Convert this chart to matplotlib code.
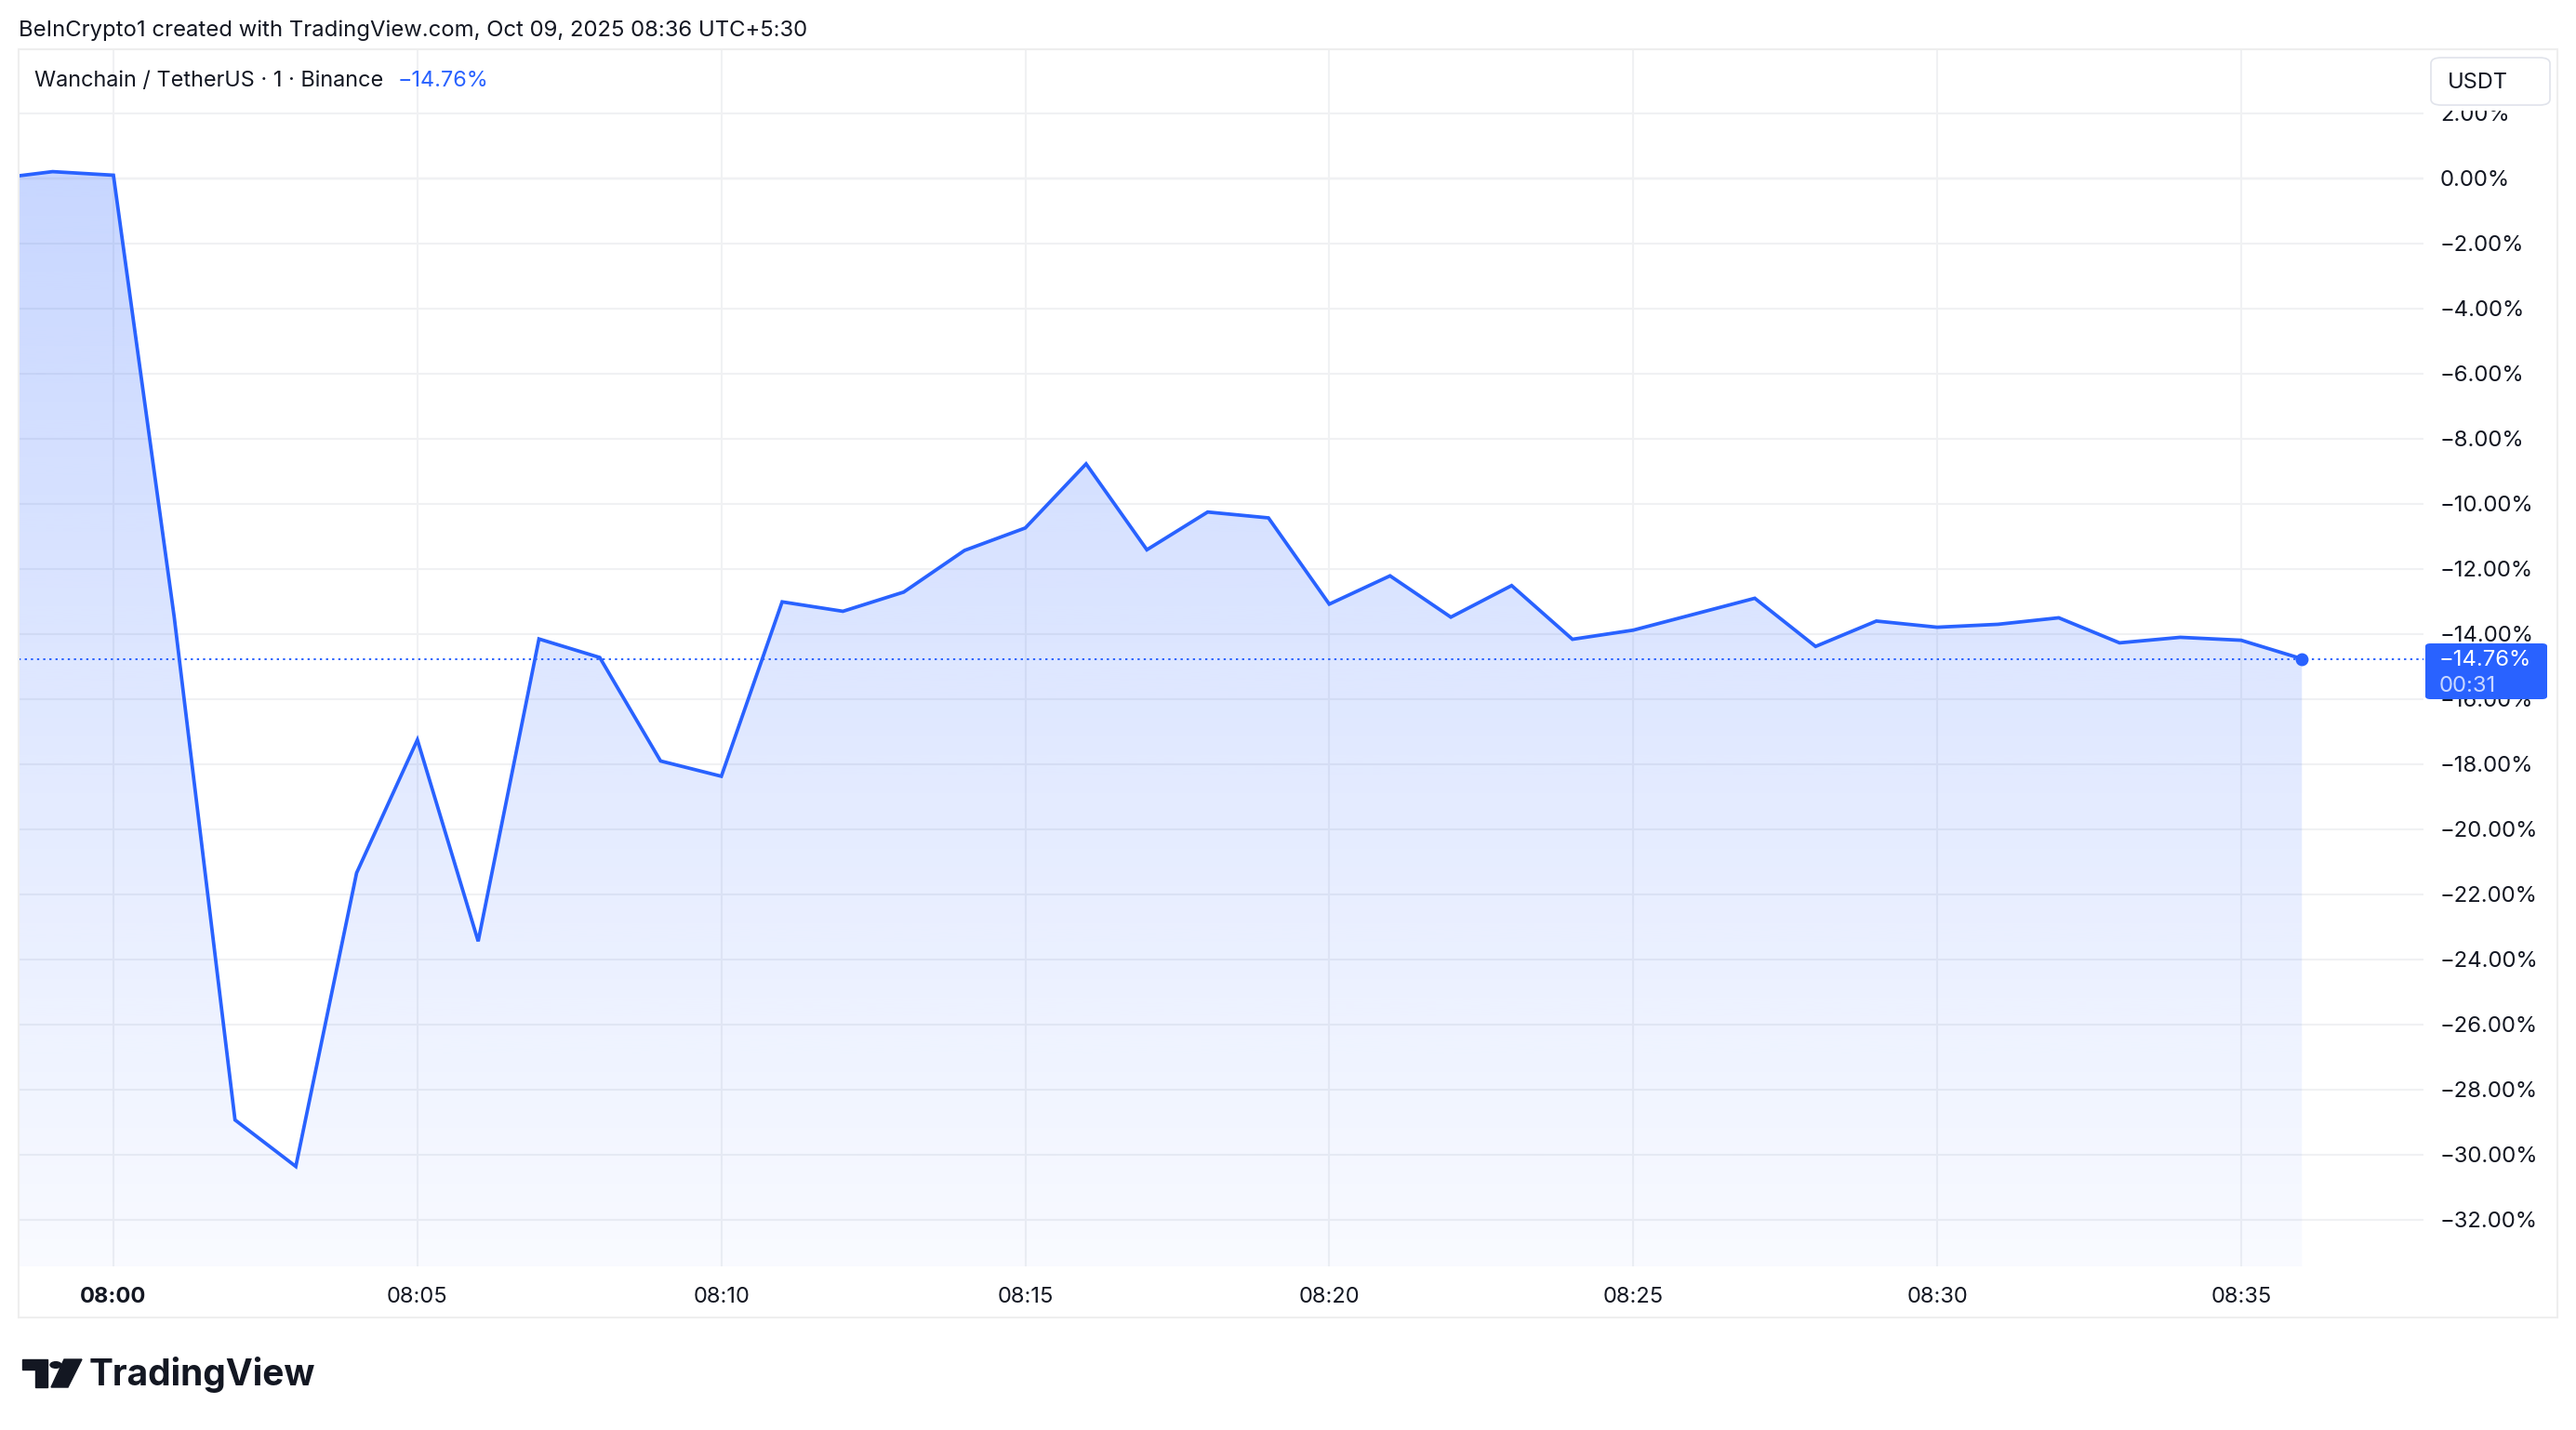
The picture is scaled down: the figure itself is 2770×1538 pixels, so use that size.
import numpy as np
import matplotlib
matplotlib.use("Agg")
import matplotlib.pyplot as plt
from matplotlib.patches import Rectangle, FancyBboxPatch, Polygon, Circle

plt.rcParams["font.family"] = ["Inter", "DejaVu Sans"]

# ---------------------------------------------------------
# Data: 1-minute closes, % change vs 08:00 base
# ---------------------------------------------------------
times = [
    "07:58", "07:59", "08:00", "08:01", "08:02", "08:03", "08:04", "08:05",
    "08:06", "08:07", "08:08", "08:09", "08:10", "08:11", "08:12", "08:13",
    "08:14", "08:15", "08:16", "08:17", "08:18", "08:19", "08:20", "08:21",
    "08:22", "08:23", "08:24", "08:25", "08:26", "08:27", "08:28", "08:29",
    "08:30", "08:31", "08:32", "08:33", "08:34", "08:35", "08:36",
]
change_pct = [
    -0.02, 0.21, 0.10, -13.48, -28.93, -30.36, -21.34, -17.25,
    -23.44, -14.15, -14.72, -17.90, -18.37, -13.01, -13.30, -12.71,
    -11.43, -10.74, -8.77, -11.41, -10.25, -10.43, -13.08, -12.21,
    -13.48, -12.51, -14.16, -13.88, -13.39, -12.90, -14.38, -13.60,
    -13.79, -13.70, -13.50, -14.27, -14.10, -14.19, -14.76,
]
time_ticks = ["08:00", "08:05", "08:10", "08:15", "08:20", "08:25", "08:30", "08:35"]
pct_ticks = [2, 0, -2, -4, -6, -8, -10, -12, -14, -16, -18, -20, -22, -24, -26, -28, -30, -32]

title_text = "BeInCrypto1 created with TradingView.com, Oct 09, 2025 08:36 UTC+5:30"
symbol_text = "Wanchain / TetherUS · 1 · Binance"
last_label = "\u221214.76%"
countdown = "00:31"

BLUE = "#2962ff"
TEXT = "#131722"
GRID = "#f0f1f3"


def to_minutes(t):
    h, m = t.split(":")
    return int(h) * 60 + int(m) - 8 * 60


def fmt_pct(v):
    s = f"{abs(v):.2f}%"
    return ("\u2212" + s) if v < 0 else s


x = np.array([to_minutes(t) for t in times], dtype=float)
y = np.array(change_pct)

# ---------------------------------------------------------
# Figure / pixel helpers
# ---------------------------------------------------------
W, H = 2770, 1538
fig = plt.figure(figsize=(W / 100, H / 100), dpi=100)
fig.patch.set_facecolor("white")


def fx(px):
    return px / W


def fy(py):
    return 1 - py / H


LEFT, RIGHT, TOP, BOTTOM = 20, 2606, 53, 1362
ax = fig.add_axes([fx(LEFT), fy(BOTTOM), (RIGHT - LEFT) / W, (BOTTOM - TOP) / H])
ax.set_xlim(-1.56, 38.0)
ax.set_ylim(-33.43, 3.97)
ax.set_facecolor("white")

for s in ax.spines.values():
    s.set_visible(False)
ax.set_xticks([to_minutes(t) for t in time_ticks])
ax.set_yticks(pct_ticks)
ax.tick_params(length=0, labelleft=False, labelbottom=False)
ax.grid(True, color=GRID, lw=1.5, zorder=0)

# zero line
ax.axhline(0, color="#b2b2b2", lw=1.5, zorder=1)

# gradient area under the line
ybot = ax.get_ylim()[0]
fill = ax.fill_between(x, y, ybot, color="none", lw=0)
n = 256
grad = np.zeros((n, 1, 4))
grad[:, 0, 0] = 41 / 255
grad[:, 0, 1] = 98 / 255
grad[:, 0, 2] = 1.0
grad[:, 0, 3] = np.linspace(0.26, 0.03, n)
im = ax.imshow(grad, extent=[x[0], x[-1], ybot, y.max()], aspect="auto",
               origin="upper", zorder=2, interpolation="bicubic")
im.set_clip_path(fill.get_paths()[0], transform=ax.transData)
ax.set_xlim(-1.56, 38.0)
ax.set_ylim(-33.43, 3.97)

# price line
ax.plot(x, y, color=BLUE, lw=2.7, zorder=4, solid_joinstyle="miter")
ax.axhline(y[-1], color=BLUE, lw=1.4, ls=(0, (1.2, 2.2)), zorder=3)
ax.plot(x[-1], y[-1], "o", ms=9, color=BLUE, zorder=5)

# time axis labels
for t in time_ticks:
    ax.text(to_minutes(t), -33 / (BOTTOM - TOP), t, transform=ax.get_xaxis_transform(),
            ha="center", va="center", fontsize=17, color=TEXT,
            fontweight="bold" if t == "08:00" else "normal", clip_on=False)

# price axis labels (nudged ~2px down so glyphs sit centred on the grid line)
for v in pct_ticks:
    ax.text(1 + 18 / (RIGHT - LEFT), v - 0.05, fmt_pct(v), transform=ax.get_yaxis_transform(),
            ha="left", va="center", fontsize=17.2, color=TEXT, clip_on=False)

# pane border
fig.patches.append(Rectangle((fx(20), fy(1417)), (2750 - 20) / W, (1417 - 53) / H,
                             transform=fig.transFigure, fill=False,
                             edgecolor="#eeeeee", lw=1.5, zorder=0))

# USDT currency box (covers the top label)
fig.patches.append(Rectangle((fx(2608), fy(119)), (2748 - 2608) / W, (119 - 56) / H,
                             transform=fig.transFigure, facecolor="white",
                             edgecolor="none", zorder=5))
fig.patches.append(FancyBboxPatch((fx(2614), fy(113)), (2742 - 2614) / W, (113 - 62) / H,
                                  boxstyle="round,pad=0,rounding_size=0.004",
                                  transform=fig.transFigure, facecolor="white",
                                  edgecolor="#e0e3eb", lw=1.2, zorder=6))
fig.text(fx(2632), fy(89), "USDT", ha="left", va="center", fontsize=17,
         color=TEXT, zorder=7)

# last price label
fig.patches.append(FancyBboxPatch((fx(2608), fy(752)), (2739 - 2608) / W, (752 - 692) / H,
                                  boxstyle="round,pad=0,rounding_size=0.002",
                                  transform=fig.transFigure, facecolor=BLUE,
                                  edgecolor="none", zorder=6))
fig.text(fx(2623), fy(710), last_label, ha="left", va="center", fontsize=17.2,
         color="white", zorder=7)
fig.text(fx(2623), fy(738), countdown, ha="left", va="center", fontsize=17.2,
         color="#ffffff", alpha=0.75, zorder=7)

# header texts
fig.text(fx(20), fy(33), title_text, ha="left", va="center", fontsize=17.2, color=TEXT)
fig.text(fx(37), fy(87), symbol_text, ha="left", va="center", fontsize=16.9, color=TEXT)
fig.text(fx(428), fy(87), last_label, ha="left", va="center", fontsize=16.9, color=BLUE)

# TradingView logo
k = "#131722"
fig.patches.append(Polygon([[fx(24), fy(1462)], [fx(51), fy(1462)], [fx(51), fy(1492)],
                            [fx(38), fy(1492)], [fx(38), fy(1473)], [fx(24), fy(1473)]],
                           closed=True, transform=fig.transFigure, color=k, zorder=5))
fig.patches.append(Circle((fx(60), fy(1468)), 6 / W, transform=fig.transFigure,
                          color=k, zorder=5))
fig.patches.append(Polygon([[fx(69), fy(1462)], [fx(88), fy(1462)], [fx(73), fy(1492)],
                            [fx(55), fy(1492)]],
                           closed=True, transform=fig.transFigure, color=k, zorder=5))
fig.text(fx(96), fy(1479), "TradingView", ha="left", va="center", fontsize=28,
         fontweight="bold", color=k)

fig.savefig("out.png", dpi=100, facecolor="white")
